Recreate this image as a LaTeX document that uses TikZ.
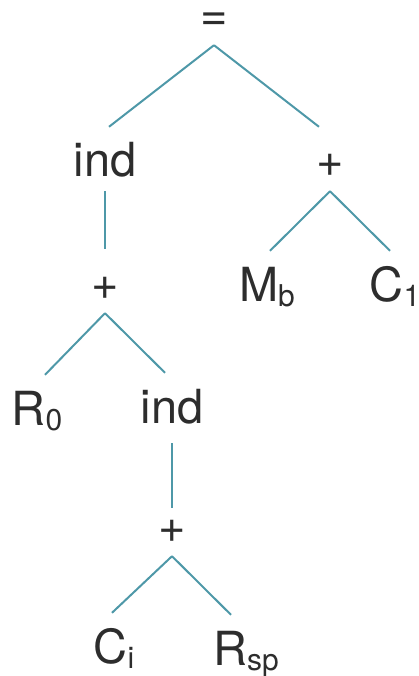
\documentclass[tikz,border=0pt]{standalone}
\usepackage{fontspec}
\setmainfont{TeX Gyre Heros}
\usepackage{tikz}

\definecolor{treeline}{RGB}{78,152,168}
\definecolor{termtext}{RGB}{45,45,45}

\newcommand{\subtxt}[1]{\raisebox{-0.12em}{\fontsize{30}{30}\selectfont #1}}

\begin{document}
\begin{tikzpicture}[
  x=1pt, y=-1pt,
  term/.style={anchor=base, inner sep=0pt, text height=50pt, text depth=14pt,
               font=\fontsize{47}{52}\selectfont, text=termtext},
  edge/.style={draw=treeline, line width=2pt}
]
\useasboundingbox (0,0) rectangle (419,676);

% --- terms ---
\node[term, text height=22pt] (eq) at (214,31) {=};
\node[term] (ind1)  at (105,177) {ind};
\node[term] (plusr) at (330,177) {+};
\node[term] (mb)    at (267,301) {M\subtxt{b}};
\node[term] (c1)    at (395,301) {C\subtxt{1}};
\node[term] (plusl) at (105,299) {+};
\node[term] (r0)    at (37,425)  {R\subtxt{0}};
\node[term] (ind2)  at (172,423) {ind};
\node[term] (plusi) at (172,542) {+};
\node[term] (ci)    at (114,663) {C\subtxt{i}};
\node[term] (rsp)   at (246,665) {R\subtxt{sp}};

% --- edges ---
\draw[edge] (eq.south) -- ([xshift=4pt]ind1.north);
\draw[edge] (eq.south) -- ([xshift=-11pt]plusr.north);
\draw[edge] (plusr.south) -- ([xshift=3pt]mb.north);
\draw[edge] (plusr.south) -- ([xshift=-5pt]c1.north);
\draw[edge] (ind1.south) -- (plusl.north);
\draw[edge] (plusl.south) -- ([xshift=8pt]r0.north);
\draw[edge] (plusl.south) -- ([xshift=-7pt]ind2.north);
\draw[edge, shorten <=6pt, shorten >=-16pt] (ind2.south) -- (plusi.north);
\draw[edge] (plusi.south) -- ([xshift=-2pt]ci.north);
\draw[edge] (plusi.south) -- ([xshift=-15pt]rsp.north);

\end{tikzpicture}
\end{document}
